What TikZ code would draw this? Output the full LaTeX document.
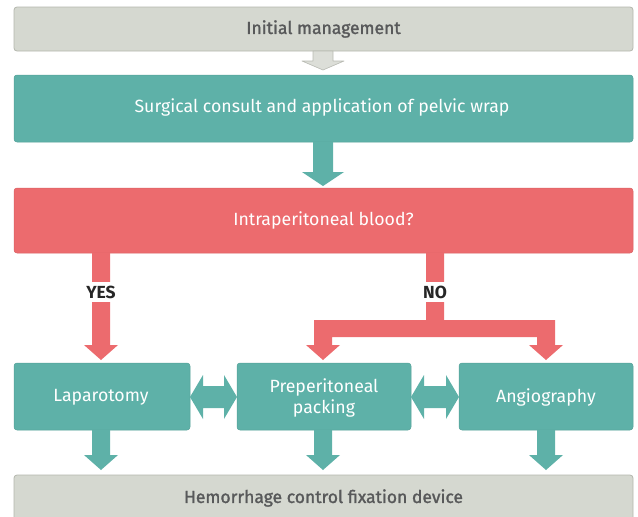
\documentclass[tikz,border=0pt]{standalone}
\usepackage{fontspec}
\setmainfont{Fira Sans}
\newfontfamily\medfont[FakeBold=1.5]{Fira Sans}
\definecolor{grayfill}{HTML}{D5D8D0}
\definecolor{grayline}{HTML}{B3B6AD}
\definecolor{grayarrow}{HTML}{DCDED8}
\definecolor{grayarrowline}{HTML}{B9BBB3}
\definecolor{tealc}{HTML}{5EB1A8}
\definecolor{tealline}{HTML}{54A198}
\definecolor{redc}{HTML}{EC6B6E}
\definecolor{redline}{HTML}{DA6063}
\definecolor{graytext}{HTML}{58595A}
\tikzset{
  graybox/.style={fill=grayfill, draw=grayline, line width=0.8pt, rounded corners=3pt},
  tealbox/.style={fill=tealc, draw=tealline, line width=0.5pt, rounded corners=3pt},
  redbox/.style={fill=redc, draw=redline, line width=0.5pt, rounded corners=3pt},
  graytxt/.style={text=graytext, font=\fontsize{17.5}{20}\medfont},
  whitetxt/.style={text=white, font=\fontsize{17.7}{21}\selectfont, align=center},
  lbl/.style={fill=white, text=black!85, font=\fontsize{17.5}{20}\selectfont\bfseries, inner sep=4pt},
}
\newcommand{\blockdown}[6]{% colour, x, ytop, ytip, shaft hw, head hw
  \fill[#1] (#2-#5,#3) -- (#2+#5,#3) -- (#2+#5,#4-15) -- (#2+#6,#4-15) -- (#2,#4)
    -- (#2-#6,#4-15) -- (#2-#5,#4-15) -- cycle;}
\newcommand{\dblarrow}[3]{% xleft, xright, ymid
  \fill[tealc] (#1,#3) -- (#1+13,#3-22) -- (#1+13,#3-11) -- (#2-13,#3-11) -- (#2-13,#3-22)
    -- (#2,#3) -- (#2-13,#3+22) -- (#2-13,#3+11) -- (#1+13,#3+11) -- (#1+13,#3+22) -- cycle;}
\begin{document}
\begin{tikzpicture}[x=1pt,y=-1pt]
\useasboundingbox (0,0) rectangle (638,517);
% boxes
\draw[graybox] (14,7) rectangle (633,51);
\node[graytxt] (init) at (323.5,29) {Initial management};
\draw[tealbox] (14,75) rectangle (633,142);
\node[whitetxt] (consult) at (322,107) {Surgical consult and application of pelvic wrap};
\draw[redbox] (14,188) rectangle (633,253);
\node[whitetxt] (blood) at (323.5,220) {Intraperitoneal blood?};
\draw[tealbox] (14,363) rectangle (190,430);
\node[whitetxt] (lap) at (101,397) {Laparotomy};
\draw[tealbox] (237,363) rectangle (411,430);
\node[whitetxt] (pack) at (324,398) {Preperitoneal\\packing};
\draw[tealbox] (459,363) rectangle (633,430);
\node[whitetxt] (angio) at (546,397) {Angiography};
\draw[graybox] (14,475) rectangle (633,540);
\node[graytxt] (fix) at (323.5,498) {Hemorrhage control fixation device};
% gray arrow
\draw[fill=grayarrow, draw=grayarrowline, line width=0.6pt, line join=round]
  (313,51) -- (333,51) -- (333,61) -- (344,61) -- (323,70) -- (302,61) -- (313,61) -- cycle;
% teal arrow
\fill[tealc] (313,142) -- (333,142) -- (333,172) -- (344,172) -- (323,186) -- (302,172) -- (313,172) -- cycle;
% YES arrow
\blockdown{redc}{101}{253}{360}{9}{17}
\node[lbl] (yes) at (101,292) {YES};
% NO branch
\fill[redc] (426,253) -- (444,253) -- (444,320) -- (555,320) -- (555,345) -- (563,345) -- (546,360)
  -- (529,345) -- (537,345) -- (537,337) -- (332,337) -- (332,345) -- (340,345) -- (323,360)
  -- (306,345) -- (314,345) -- (314,320) -- (426,320) -- cycle;
\node[lbl] (no) at (435,292) {NO};
% double arrows
\dblarrow{190}{237}{397}
\dblarrow{411}{459}{397}
% bottom arrows
\blockdown{tealc}{101}{430}{470}{9}{17}
\blockdown{tealc}{323}{430}{470}{9}{17}
\blockdown{tealc}{546}{430}{470}{9}{17}
\end{tikzpicture}
\end{document}
